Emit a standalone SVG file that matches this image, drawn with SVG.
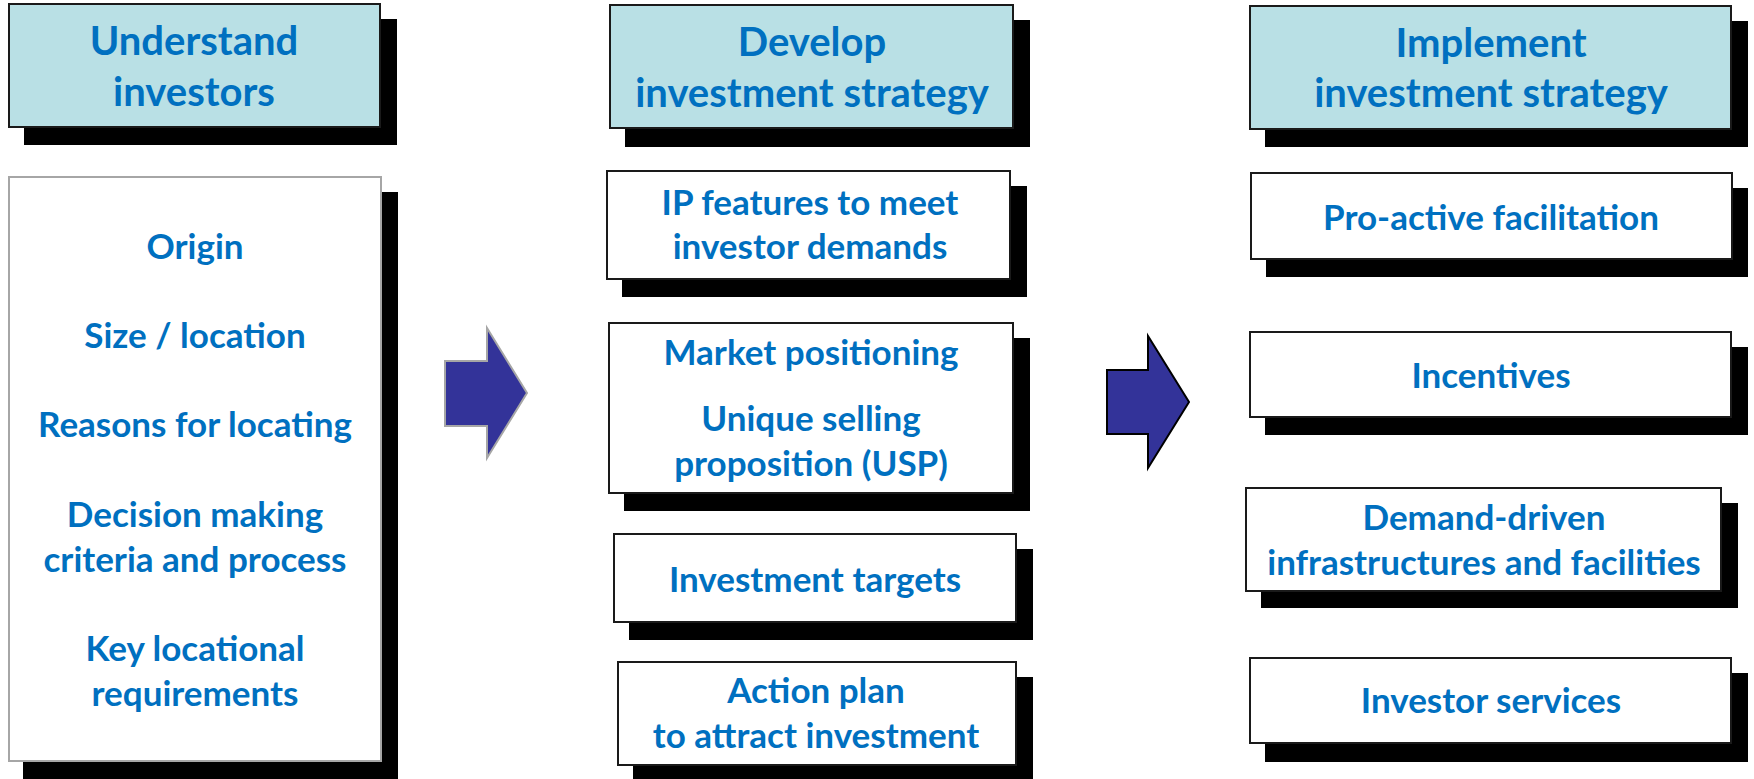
<svg xmlns="http://www.w3.org/2000/svg" width="1754" height="779" viewBox="0 0 1754 779">
<style>
.sh{fill:#000}
.hdr{fill:#B9E0E5;stroke:#1a1a1a;stroke-width:2}
.box{fill:#fff;stroke:#1a1a1a;stroke-width:2}
.box1{fill:#fff;stroke:#A6A6A6;stroke-width:2}
text{font-family:Lato,"Liberation Sans",sans-serif;font-weight:700;fill:#0070C0;text-anchor:middle}
.h{font-size:40px}
.b{font-size:35px}
.arr1{fill:#333399;stroke:#A6A6A6;stroke-width:2}
.arr2{fill:#333399;stroke:#000;stroke-width:2}
</style>
<rect width="1754" height="779" fill="#fff"/>
<g id="hdr-understand">
<rect class="sh" x="24" y="19" width="373" height="126"/>
<rect class="hdr" x="9" y="4" width="371" height="123"/>
<text class="h" x="194" y="55">Understand</text>
<text class="h" x="194" y="106">investors</text>
</g>
<g id="investors-list">
<rect class="sh" x="23" y="192" width="375" height="587"/>
<rect class="box1" x="9" y="177" width="372" height="584"/>
<text class="b" x="195" y="259">Origin</text>
<text class="b" x="195" y="348">Size / location</text>
<text class="b" x="195" y="437">Reasons for locating</text>
<text class="b" x="195" y="527">Decision making</text>
<text class="b" x="195" y="572">criteria and process</text>
<text class="b" x="195" y="661">Key locational</text>
<text class="b" x="195" y="706">requirements</text>
</g>
<g id="hdr-develop">
<rect class="sh" x="625" y="20" width="405" height="127"/>
<rect class="hdr" x="610" y="5" width="403" height="123"/>
<text class="h" x="812" y="56">Develop</text>
<text class="h" x="812" y="107">investment strategy</text>
</g>
<g id="ip-features">
<rect class="sh" x="622" y="186" width="405" height="111"/>
<rect class="box" x="607" y="171" width="403" height="108"/>
<text class="b" x="810" y="215">IP features to meet</text>
<text class="b" x="810" y="259">investor demands</text>
</g>
<g id="market-positioning">
<rect class="sh" x="624" y="338" width="406" height="173"/>
<rect class="box" x="609" y="323" width="404" height="170"/>
<text class="b" x="811" y="365">Market positioning</text>
<text class="b" x="811" y="431">Unique selling</text>
<text class="b" x="811" y="476">proposition (USP)</text>
</g>
<g id="investment-targets">
<rect class="sh" x="629" y="549" width="404" height="91"/>
<rect class="box" x="614" y="534" width="402" height="88"/>
<text class="b" x="815" y="592">Investment targets</text>
</g>
<g id="action-plan">
<rect class="sh" x="633" y="677" width="400" height="102"/>
<rect class="box" x="618" y="662" width="398" height="103"/>
<text class="b" x="816" y="703">Action plan</text>
<text class="b" x="816" y="748">to attract investment</text>
</g>
<g id="hdr-implement">
<rect class="sh" x="1265" y="21" width="483" height="126"/>
<rect class="hdr" x="1250" y="6" width="481" height="123"/>
<text class="h" x="1491" y="57">Implement</text>
<text class="h" x="1491" y="107">investment strategy</text>
</g>
<g id="pro-active">
<rect class="sh" x="1266" y="188" width="482" height="89"/>
<rect class="box" x="1251" y="173" width="481" height="86"/>
<text class="b" x="1491" y="230">Pro-active facilitation</text>
</g>
<g id="incentives">
<rect class="sh" x="1265" y="347" width="483" height="88"/>
<rect class="box" x="1250" y="332" width="481" height="85"/>
<text class="b" x="1491" y="388">Incentives</text>
</g>
<g id="demand-driven">
<rect class="sh" x="1261" y="503" width="477" height="105"/>
<rect class="box" x="1246" y="488" width="475" height="103"/>
<text class="b" x="1484" y="530">Demand-driven</text>
<text class="b" x="1484" y="575">infrastructures and facilities</text>
</g>
<g id="investor-services">
<rect class="sh" x="1265" y="673" width="483" height="89"/>
<rect class="box" x="1250" y="658" width="481" height="85"/>
<text class="b" x="1491" y="713">Investor services</text>
</g>
<g id="connectors">
<polygon class="arr1" points="445,361 487,361 487,328 527,393 487,458 487,426 445,426"/>
<polygon class="arr2" points="1107,370 1148,370 1148,336 1189,402 1148,468 1148,434 1107,434"/>
</g>
</svg>
